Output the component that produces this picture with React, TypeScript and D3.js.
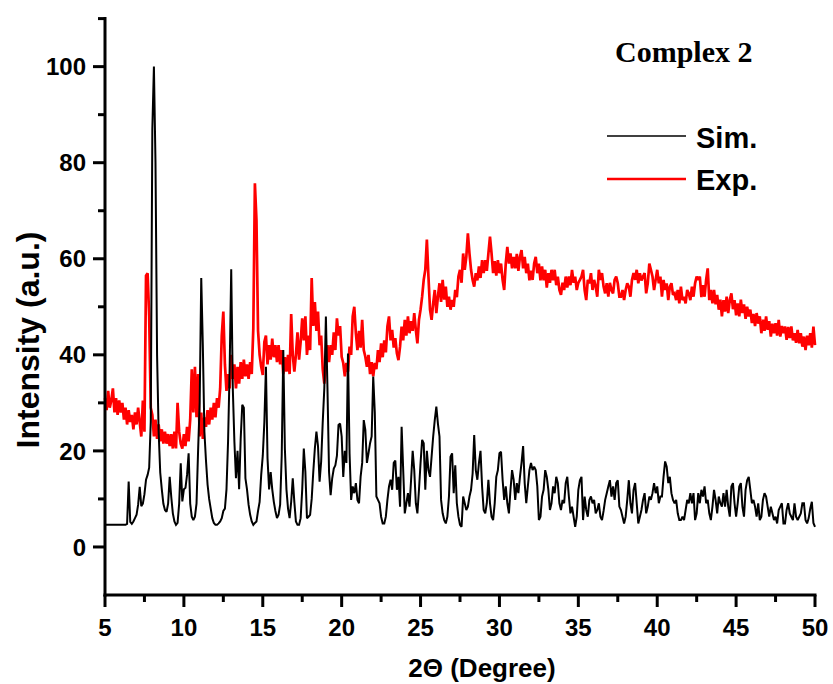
import React from "react";
import * as d3 from "d3";

// 2-theta grid of both patterns (degrees)
const twoThetaStart = 5;
const twoThetaStep = 0.1;

// Simulated pattern (Sim.), 5.0 .. 50.0 step 0.1
const simValues: number[] = [
  // 5.0 - 6.3
  4.6, 4.6, 4.6, 4.6, 4.6, 4.6, 4.6, 4.6, 4.6, 4.6, 4.6, 4.6, 4.6, 4.6,
  // 6.4 - 8.3
  4.8, 13.6, 5.2, 4.8, 5.3, 6, 6.7, 8.8, 12.5, 8.5, 9, 11, 14, 15, 16.5, 26, 87, 100, 80, 40,
  // 8.4 - 12.3
  24, 15.5, 12, 9, 7.7, 7.3, 9, 14.6, 10.4, 7, 5.3, 4.6, 5, 9, 17.4, 9.5, 12, 12.3, 15, 19.5,
  9, 6.3, 5.6, 6.3, 9, 20, 30, 56, 42, 24, 18, 13, 10, 8, 6, 5, 4.6, 4.6, 4.9, 5.3,
  // 12.4 - 19.8
  6, 7.5, 8, 12, 22, 37, 57.8, 33, 22, 14.3, 20, 12, 22.6, 29.6, 29, 14.3, 12, 8.8, 6.7, 5.3,
  4.6, 5, 5.3, 7.5, 9.4, 15, 19, 26, 37.5, 18.5, 12, 15.6, 12, 9.4, 7.5, 6, 6.7, 8.8, 19, 41,
  20.5, 12, 8, 6, 9.4, 14.3, 9.4, 5.3, 4.6, 4.6, 6, 12, 20.5, 15.6, 6, 6.3, 6.7, 10, 15.6, 20.5,
  24, 21, 13.6, 17.8, 26, 33, 48, 33, 15.6, 10.8, 14.3, 16.3, 17, 19, 25.4,
  // 19.9 - 27.5
  25.7, 23, 14.6, 20, 17.5, 40.3, 19.5, 9.8, 12.6, 11.2,
  13.3, 9.8, 9.1, 14.6, 17.5, 26.4, 24.4, 17.5, 19.5, 21.6,
  23, 35.5, 28, 10.5, 9.8, 9.1, 6.3, 4.9, 4.9, 6.3,
  9.8, 12.6, 14, 11.9, 17.5, 18, 11.9, 14.6, 8.4, 25,
  16, 7, 9.1, 11.2, 8.4, 14, 20, 16, 9.1, 7,
  11.9, 17.5, 22.3, 21.6, 11.9, 20, 16, 14.6, 18.8, 23,
  26.4, 29.2, 25.7, 23, 9.8, 7, 5.6, 4.9, 6.3, 10.5,
  18.8, 19.5, 11.2, 17, 9.1, 6.3, 4.6,
  // 27.6 - 35.0
  4.2, 10.5, 9.1, 7.7, 8.4, 10.5, 11.9, 15.3, 23.3, 16,
  14, 17.5, 20, 12.6, 7.7, 7, 9.1, 14, 9.1, 6.3,
  5.6, 9.1, 14.6, 16, 19.5, 19.8, 14, 9.8, 12.6, 9.1,
  7, 11.9, 16, 14, 9.8, 13.3, 11.2, 14.6, 17.5, 21,
  13.3, 9.1, 12.6, 16, 17.5, 16, 16.7, 16, 12.6, 5.6,
  6.3, 10.5, 11.9, 16, 14.6, 11.9, 7.7, 9.1, 12.6, 11.2,
  14.6, 13.3, 9.1, 7.7, 9.8, 9.1, 13.3, 14.6, 10.5, 7,
  8.4, 6.3, 4.2, 6.3, 11.9,
  // 35.1 - 42.6
  13.9, 14.6, 5.6, 10.5, 7.7, 6.3, 9.8, 10.5, 9.1, 9.8,
  7, 7.7, 9.1, 6.3, 5.6, 7.5, 9.8, 11.2, 12.6, 13.9,
  10.5, 12.6, 9.8, 13.3, 13.9, 8.4, 7.7, 6.3, 4.9, 6.3,
  9.8, 13.9, 9.1, 7, 11.9, 13.3, 9.1, 4.9, 6.3, 7.7,
  9.8, 11.2, 7, 8.4, 10.5, 9.8, 11.2, 13.3, 11.2, 12.6,
  9.1, 10.5, 10.5, 14.6, 17.8, 16.7, 13.3, 14.6, 11.2, 9.8,
  9.1, 9.8, 7, 5.6, 5.6, 6.3, 5.6, 7.7, 9.8, 9.1,
  11.2, 9.1, 11.2, 5.6, 7, 11.2,
  // 42.7 - 50.0
  9.1, 11.9, 10.5, 12.6, 9.1, 9.8, 7, 5.6, 8.4, 11.9,
  9.8, 7, 10.5, 9.1, 8.4, 11.2, 8.4, 11.9, 8.4, 6.3,
  12.6, 13.3, 9.1, 6.3, 9.1, 12.6, 13.3, 8.4, 6.3, 11.9,
  13.9, 14.6, 11.9, 9.1, 9.8, 8.4, 6.3, 9.1, 5.6, 6.3,
  9.8, 11.2, 10.5, 8.4, 6.3, 8.4, 7, 5.6, 6.3, 4.9,
  7.7, 8.4, 9.1, 4.9, 4.9, 7.7, 9.1, 7, 6.3, 5.6,
  9.1, 6.3, 5.6, 6.3, 7, 9.1, 9.1, 5.6, 4.9, 6,
  8, 9.4, 5, 4.2,
];

// Experimental pattern (Exp.), 5.0 .. 50.0 step 0.1
const expValues: number[] = [
  // 5.0 - 7.5
  31, 28.5, 32.5, 29, 30.5, 33, 28, 31, 27.5, 30.5, 28, 30, 26.5, 29, 25.5, 28.5, 26, 27.5, 24.5, 28,
  25.5, 29, 26, 23, 30.5, 24,
  // 7.6 - 7.9
  56.5, 57, 48, 29,
  // 8.0 - 10.4
  27.5, 23, 26.5, 22.5, 25.5, 22, 24.5, 21.5, 24, 21.5, 23.5, 21, 23.5, 20.5, 24, 20.5, 30, 24, 21.5, 20.5,
  23.5, 21, 25, 22, 26.5,
  // 10.5 - 10.9
  37, 28, 37.5, 27, 36,
  // 11.0 - 12.2
  23, 28, 22.5, 27, 25, 28.5, 25.5, 29, 26.5, 30, 27, 31, 29,
  // 12.3 - 14.4
  33, 44, 49, 38, 32.5, 36, 33, 40, 35, 38, 33, 37.5, 34, 38.5, 35, 39, 35.5, 38, 35, 38.5, 36, 45.5,
  // 14.5 - 14.9
  75.7, 68, 45, 40, 37.5,
  // 15.0 - 19.8
  35.8, 42.7, 44, 38, 42, 39, 43.4, 39.5, 42, 38.5,
  42, 38, 41, 36, 39.5, 36.5, 40, 36, 48.5, 40,
  36.5, 40, 44.7, 39, 42.7, 47.6, 43, 48, 40, 44,
  41, 56, 46, 51, 45, 49, 42, 44, 37, 34,
  38, 42, 38.5, 42, 40, 44.7, 41, 47.6, 44,
  // 19.9 - 27.5
  46, 39.6, 38.3, 35.5, 38.3, 36.5, 41.7, 40, 48, 50,
  44.5, 41, 45, 41.5, 47.3, 41, 39.6, 37.5, 40, 36,
  38.5, 35.5, 38.3, 37, 41, 38.5, 42.4, 39.5, 43, 40.5,
  45.9, 48, 43, 45.2, 41.5, 43.5, 40.3, 38.9, 41.7, 45.9,
  43, 47.3, 44, 48, 44.5, 47, 45, 48.7, 45.2, 42.4,
  47.3, 49.4, 52.1, 55.6, 57.7, 64, 56.3, 49.4, 47.3, 50.7,
  53.5, 48.7, 52.1, 54.9, 51, 55.6, 51.5, 54.2, 50, 52.1,
  49.4, 51.4, 50, 53.5, 52, 56.3, 57.7,
  // 27.6 - 35.0
  55, 61.1, 57.7, 60.4, 65.3, 61.1, 57.7, 55.6, 54.2, 57,
  55.5, 58.4, 56, 59.7, 57, 59.7, 57.5, 61.1, 64.6, 61.1,
  57, 59.5, 56.5, 59.7, 57, 59, 55.6, 53.5, 59, 62.5,
  59, 61.1, 58, 60.4, 58, 61, 57.5, 60.4, 61.8, 58,
  60.4, 57, 59, 55.5, 57.5, 55.6, 59, 60.4, 57, 59,
  55.5, 58.4, 55.5, 57.7, 54, 57, 55, 57.7, 55.5, 57.7,
  54.5, 56.3, 53.5, 52.5, 55, 53.5, 56.3, 54, 56.3, 54.5,
  57.7, 55, 56.3, 53.5, 55,
  // 35.1 - 42.6
  55.6, 56.3, 57.7, 53.5, 51.4, 55.6, 54.9, 57, 53.5, 55.6,
  54.2, 52.1, 57.7, 55.6, 57, 54.2, 52.8, 54.9, 52.1, 55,
  53.5, 52.8, 55.6, 56.3, 54.9, 52.1, 52.1, 53.5, 51.4, 53.5,
  54.9, 54.2, 52.1, 55.6, 57, 55.6, 57.7, 54.9, 57, 55.5,
  56.3, 57, 52.8, 54.9, 59, 57.7, 56.3, 53.5, 55.6, 57.7,
  54.9, 56.3, 52.1, 55.6, 53.5, 54.9, 51.4, 54.2, 54.9, 52.5,
  52.8, 51.4, 53.5, 50.7, 54.2, 51.4, 52.1, 50.7, 53.5, 52.8,
  51.4, 54.2, 52.1, 54.9, 56.3, 55.6,
  // 42.7 - 50.0
  56.3, 52, 54.5, 52.1, 55.6, 58, 51.4, 53.5, 50.7, 53.5,
  50.5, 52.5, 49.4, 51.5, 48, 51.4, 49, 52.1, 48.7, 51.4,
  52.8, 49.5, 51.4, 48.2, 50.7, 48, 51.5, 48.7, 50.5, 47.5,
  50, 48, 49.4, 46.6, 48.5, 46, 48.7, 46.5, 48, 44.5,
  47.3, 45, 48, 45.2, 47, 43.8, 46.5, 44.5, 46.6, 44,
  47.3, 43.8, 46, 44.5, 45.9, 43.1, 45.8, 43.5, 45.9, 43,
  44.5, 42.5, 45.2, 42.4, 44.5, 41.7, 43.8, 41, 44, 42,
  44.5, 41.5, 45.9, 42,
];

const xMajorTicks = [5, 10, 15, 20, 25, 30, 35, 40, 45, 50];
const xMinorTicks = [7.5, 12.5, 17.5, 22.5, 27.5, 32.5, 37.5, 42.5, 47.5];
const yMajorTicks = [0, 20, 40, 60, 80, 100];
const yMinorTicks = [10, 30, 50, 70, 90, 110];

const seriesNames = ["Sim.", "Exp."];
const seriesColors = ["#000000", "#ff0000"];
const chartTitle = "Complex 2";
const xTitle = "2\u0398 (Degree)";
const yTitle = "Intensity (a.u.)";

export default function App() {
  const W = 833;
  const H = 684;
  const x = d3.scaleLinear().domain([5, 50]).range([105, 815]);
  const y = d3.scaleLinear().domain([-10, 110]).range([595, 18.6]);
  const line = d3
    .line<number>()
    .x((_, i) => x(twoThetaStart + i * twoThetaStep))
    .y((d) => y(d));

  const sans = "'Liberation Sans', Arial, sans-serif";
  const serif = "'Liberation Serif', 'Times New Roman', serif";
  const x0 = x(5);
  const yb = y(-10);

  return (
    <svg
      width={W}
      height={H}
      style={{ position: "absolute", left: 0, top: 0, background: "#fff" }}
    >
      <rect x={0} y={0} width={W} height={H} fill="#fff" />
      {/* data */}
      <path d={line(expValues) || ""} fill="none" stroke={seriesColors[1]} strokeWidth={2.7} strokeLinejoin="miter" strokeMiterlimit={2} />
      <path d={line(simValues) || ""} fill="none" stroke={seriesColors[0]} strokeWidth={2} strokeLinejoin="miter" strokeMiterlimit={2} />

      {/* axes */}
      <line x1={x0} y1={y(110)} x2={x0} y2={yb} stroke="#000" strokeWidth={3} strokeLinecap="square" />
      <line x1={x0} y1={yb} x2={x(50)} y2={yb} stroke="#000" strokeWidth={3} strokeLinecap="square" />
      {xMajorTicks.map((t) => (
        <g key={"xM" + t}>
          <line x1={x(t)} x2={x(t)} y1={yb} y2={yb + 12} stroke="#000" strokeWidth={3} />
          <text x={x(t)} y={636} textAnchor="middle" fontFamily={sans} fontWeight="bold" fontSize={24} fill="#000">
            {t}
          </text>
        </g>
      ))}
      {xMinorTicks.map((t) => (
        <line key={"xm" + t} x1={x(t)} x2={x(t)} y1={yb} y2={yb + 7} stroke="#000" strokeWidth={3} />
      ))}
      {yMajorTicks.map((t) => (
        <g key={"yM" + t}>
          <line x1={x0 - 12} x2={x0} y1={y(t)} y2={y(t)} stroke="#000" strokeWidth={3} />
          <text x={86} y={y(t)} dy="0.36em" textAnchor="end" fontFamily={sans} fontWeight="bold" fontSize={24} fill="#000">
            {t}
          </text>
        </g>
      ))}
      {yMinorTicks.map((t) => (
        <line key={"ym" + t} x1={x0 - 7} x2={x0} y1={y(t)} y2={y(t)} stroke="#000" strokeWidth={3} />
      ))}

      {/* axis titles */}
      <text x={482} y={677} textAnchor="middle" fontFamily={sans} fontWeight="bold" fontSize={26} fill="#000">
        {xTitle}
      </text>
      <text
        transform={`translate(39,340) rotate(-90)`}
        textAnchor="middle"
        fontFamily={sans}
        fontWeight="bold"
        fontSize={32}
        fill="#000"
      >
        {yTitle}
      </text>

      {/* title */}
      <text x={615} y={62} fontFamily={serif} fontWeight="bold" fontSize={30} fill="#000">
        {chartTitle}
      </text>

      {/* legend */}
      {seriesNames.map((n, i) => (
        <g key={n}>
          <line
            x1={607}
            x2={686}
            y1={136 + i * 43}
            y2={136 + i * 43}
            stroke={seriesColors[i]}
            strokeWidth={i === 0 ? 1.6 : 2.6}
          />
          <text x={696} y={148 + i * 42} fontFamily={sans} fontWeight="bold" fontSize={29} fill="#000">
            {n}
          </text>
        </g>
      ))}
    </svg>
  );
}
